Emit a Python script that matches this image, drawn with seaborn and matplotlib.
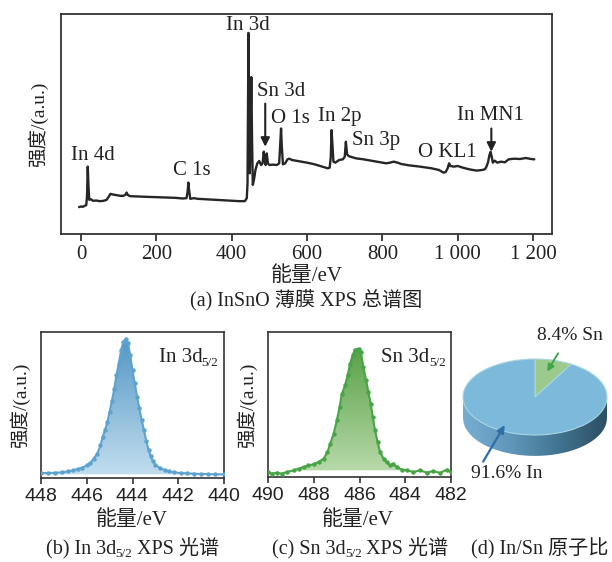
import numpy as np
import pandas as pd
import matplotlib
matplotlib.use('Agg')
import matplotlib.pyplot as plt
import seaborn as sns
from matplotlib.colors import LinearSegmentedColormap
from matplotlib.path import Path

# ---------------- data ----------------
survey_energy = [-5, 0, 5, 10, 14, 16, 18, 20, 22, 26, 32, 40, 50, 60, 68, 74, 78, 85, 95, 105,
                 112, 118, 121, 124, 130, 150, 175, 200, 225, 250, 270, 280, 283, 285, 287, 290,
                 300, 310, 340, 370, 400, 420, 435, 440, 442, 443.5, 444.5, 446, 448, 450, 452,
                 454, 456, 459, 463, 468, 473, 478, 482, 485, 487, 490, 493, 496, 500, 510, 520,
                 526, 529, 531, 533, 536, 542, 548, 553, 560, 580, 600, 620, 640, 655, 660, 663,
                 665, 667, 670, 675, 685, 695, 700, 703, 706, 710, 715, 730, 750, 770, 790, 810,
                 820, 830, 840, 850, 870, 900, 930, 950, 962, 968, 973, 977, 980, 990, 1000, 1010,
                 1030, 1050, 1065, 1072, 1076, 1080, 1084, 1087, 1090, 1093, 1098, 1105, 1115,
                 1125, 1135, 1150, 1165, 1180, 1195, 1203]
survey_intensity = [81, 83, 82, 85, 87, 113, 203, 143, 103, 105, 100, 101, 99, 100, 103, 113, 121,
                    119, 117, 115, 115, 118, 125, 118, 114, 113, 112, 111, 110, 109, 107, 108, 128,
                    155, 131, 106, 108, 106, 104, 102, 100, 99, 99, 108, 153, 403, 606, 403, 183,
                    303, 473, 283, 148, 163, 193, 213, 220, 208, 213, 248, 228, 208, 243, 213, 208,
                    209, 208, 213, 273, 318, 263, 210, 213, 225, 227, 223, 219, 215, 210, 203, 198,
                    200, 233, 313, 273, 218, 215, 223, 225, 233, 278, 241, 235, 233, 228, 225, 221,
                    217, 213, 215, 218, 215, 211, 207, 203, 198, 193, 185, 187, 198, 213, 205, 203,
                    205, 201, 195, 191, 193, 195, 203, 215, 238, 248, 233, 215, 221, 215, 218, 216,
                    225, 227, 226, 229, 226, 225]
survey_ticks = [0, 200, 400, 600, 800, 1000, 1200]
survey_tick_labels = ['0', '200', '400', '600', '800', '1 000', '1 200']

peak_labels = ['In 4d', 'C 1s', 'In 3d', 'Sn 3d', 'O 1s', 'In 2p', 'Sn 3p', 'O KL1', 'In MN1']
peak_label_x = [32, 293, 442, 532, 556, 688, 783, 973, 1087]
peak_label_y = [238, 190, 628, 428, 348, 355, 283, 245, 358]

in_energy = [448.0, 447.7, 447.4, 447.1, 446.8, 446.6, 446.4, 446.2, 446.0, 445.85, 445.7, 445.55,
             445.4, 445.3, 445.2, 445.1, 445.0, 444.9, 444.8, 444.7, 444.6, 444.5, 444.4, 444.3,
             444.2, 444.1, 444.0, 443.9, 443.8, 443.7, 443.6, 443.5, 443.4, 443.3, 443.2, 443.1,
             443.0, 442.8, 442.6, 442.4, 442.2, 441.9, 441.6, 441.3, 441.0, 440.7, 440.4, 440.0]
in_intensity = [15, 15, 16, 17, 20, 23, 27, 31, 38, 45, 58, 72, 98, 125, 145, 168, 200, 232, 268,
                310, 345, 385, 410, 420, 408, 370, 325, 285, 245, 210, 175, 145, 112, 85, 65, 50,
                40, 30, 24, 20, 17, 15, 14, 13, 12, 12, 11, 11]

sn_energy = [490.0, 489.83, 489.6, 489.4, 489.17, 488.88, 488.66, 488.44, 488.23, 488.0, 487.79,
             487.57, 487.4, 487.28, 487.13, 486.99, 486.87, 486.77, 486.63, 486.52, 486.41, 486.3,
             486.2, 486.04, 485.94, 485.83, 485.71, 485.61, 485.51, 485.42, 485.32, 485.21, 485.1,
             484.95, 484.81, 484.66, 484.52, 484.37, 484.15, 483.93, 483.64, 483.35, 483.06,
             482.77, 482.48, 482.19, 482.0]
sn_intensity = [15, 10, 13, 10, 15, 20, 25, 30, 35, 38, 45, 55, 75, 100, 130, 170, 210, 250, 275,
                305, 340, 365, 382, 385, 375, 330, 290, 255, 220, 180, 140, 105, 75, 55, 45, 35,
                40, 30, 22, 20, 15, 20, 13, 18, 12, 22, 15]

pie_labels = ['Sn', 'In']
pie_values = [8.4, 91.6]

# ---------------- style ----------------
sns.set_theme(style='ticks')
plt.rcParams['font.family'] = ['Liberation Serif', 'Noto Sans CJK SC']
plt.rcParams['mathtext.fontset'] = 'stix'
plt.rcParams['axes.unicode_minus'] = False

W, H = 612, 562
fig = plt.figure(figsize=(W / 100, H / 100), dpi=100)
renderer = fig.canvas.get_renderer()
TXT = '#222222'


def box(l, t, r, b):
    return [l / W, 1 - b / H, (r - l) / W, (b - t) / H]


def ftext(x, y, s, **kw):
    fig.text(x / W, 1 - y / H, s, ha='center', va='center', **kw)


def rich(xc, y_base, parts):
    """parts: list of (string, fontsize, dy_pixels) laid out left to right, centred at xc."""
    items = []
    for s, fs, dy in parts:
        t = fig.text(0, 0, s, fontsize=fs, ha='left', va='baseline', color=TXT)
        items.append((t, dy, t.get_window_extent(renderer).width - 0.8))
    total = sum(w for _, _, w in items)
    x = xc - total / 2
    for t, dy, w in items:
        t.set_position((x / W, 1 - (y_base + dy) / H))
        x += w


spine_col = '#333333'

# ---------------- (a) survey ----------------
ax = fig.add_axes(box(61, 14, 552, 234))
df_s = pd.DataFrame({'E': survey_energy, 'I': survey_intensity})
sns.lineplot(data=df_s, x='E', y='I', ax=ax, color='#262626', lw=1.7, sort=False)
ax.set_xlim(-53, 1250)
ax.set_ylim(0, 663)
ax.set_xticks(survey_ticks)
ax.set_xticklabels(survey_tick_labels)
ax.set_yticks([])
ax.set_xlabel('')
ax.set_ylabel('')
ax.tick_params(axis='x', direction='out', length=5, width=1.2, labelsize=15, pad=3,
               colors=TXT)
for s in ax.spines.values():
    s.set_visible(True)
    s.set_color(spine_col)
    s.set_linewidth(1.3)
for lbl, px, py in zip(peak_labels, peak_label_x, peak_label_y):
    ax.text(px, py, lbl, ha='center', va='center', fontsize=15, color=TXT)
arr = dict(arrowstyle='-|>', color=TXT, lw=1.5, mutation_scale=13, shrinkA=0, shrinkB=0)
ax.annotate('', xy=(489, 263), xytext=(489, 393), arrowprops=arr)
ax.annotate('', xy=(1089, 248), xytext=(1089, 318), arrowprops=arr)
ftext(38, 124, '强度/(a.u.)', fontsize=14, rotation=90, color=TXT)
ftext(307, 276, '能量/eV', fontsize=15, color=TXT)
ftext(306, 300, '(a) InSnO 薄膜 XPS 总谱图', fontsize=14.5, color=TXT)


# ---------------- helper for gradient fill ----------------
def gradient_fill(axx, x, y, base, c_top, c_bot, ymax, where=None):
    poly = axx.fill_between(x, y, base, where=where, color='none', lw=0, interpolate=True)
    cmap = LinearSegmentedColormap.from_list('g', [c_bot, c_top])
    grad = np.linspace(0, 1, 256).reshape(-1, 1)
    im = axx.imshow(grad, extent=[min(x), max(x), 0, ymax], origin='lower', aspect='auto',
                    cmap=cmap, zorder=1)
    paths = poly.get_paths()
    verts = np.concatenate([p.vertices for p in paths])
    codes = np.concatenate([p.codes if p.codes is not None else
                            np.r_[Path.MOVETO, [Path.LINETO] * (len(p.vertices) - 1)]
                            for p in paths])
    im.set_clip_path(Path(verts, codes), transform=axx.transData)


def style_small(axx, xlim, ticks):
    axx.set_xlim(*xlim)
    axx.set_xticks(ticks)
    axx.set_yticks([])
    axx.set_xlabel('')
    axx.set_ylabel('')
    axx.tick_params(axis='x', direction='out', length=4, width=1.1, labelsize=14, pad=3,
                    colors=TXT)
    for lbl in axx.get_xticklabels():
        lbl.set_fontfamily('Liberation Sans')
    for s in axx.spines.values():
        s.set_visible(True)
        s.set_color(spine_col)
        s.set_linewidth(1.2)


# ---------------- (b) In 3d5/2 ----------------
axb = fig.add_axes(box(41, 332, 224, 478))
gradient_fill(axb, in_energy, in_intensity, 11, '#4f93c2', '#c4e0f0', 440)
sns.lineplot(x=in_energy, y=in_intensity, ax=axb, color='#5ea3cf', lw=1.5, marker='o',
             markersize=3.2, markeredgewidth=0, zorder=3)
axb.set_ylim(0, 440)
style_small(axb, (448, 440), [448, 446, 444, 442, 440])
rich(188, 362, [('In 3d', 15, 0), ('5/2', 9.5, 3.5)])
ftext(20, 405, '强度/(a.u.)', fontsize=14, rotation=90, color=TXT)
ftext(132, 520, '能量/eV', fontsize=15, color=TXT)
rich(132, 554, [('(b) In 3d', 14.5, 0), ('5/2', 9.5, 3), (' XPS 光谱', 14.5, 0)])

# ---------------- (c) Sn 3d5/2 ----------------
axc = fig.add_axes(box(268, 332, 451, 477))
sn_e = np.array(sn_energy)
gradient_fill(axc, sn_energy, sn_intensity, 20, '#4c9a3a', '#bcdcae', 435,
              where=(sn_e < 488.7) & (sn_e > 484.1))
sns.lineplot(x=sn_energy, y=sn_intensity, ax=axc, color='#47a545', lw=1.5, marker='o',
             markersize=3.2, markeredgewidth=0, zorder=3)
axc.set_ylim(0, 435)
style_small(axc, (490, 482), [490, 488, 486, 484, 482])
rich(413, 362, [('Sn 3d', 15, 0), ('5/2', 9.5, 3.5)])
ftext(247, 405, '强度/(a.u.)', fontsize=14, rotation=90, color=TXT)
ftext(358, 520, '能量/eV', fontsize=15, color=TXT)
rich(360, 554, [('(c) Sn 3d', 14.5, 0), ('5/2', 9.5, 3), (' XPS 光谱', 14.5, 0)])

# ---------------- (d) pie ----------------
axp = fig.add_axes(box(452.2, 326.7, 610.6, 484.4))
depth = 0.55
xs = np.linspace(-1, 1, 300)
lower = -depth - np.sqrt(np.clip(1 - xs ** 2, 0, None))
side_verts = np.vstack([np.column_stack([xs, lower]), [[1, 0], [-1, 0], [-1, lower[0]]]])
side_path = Path(side_verts)
side_cmap = LinearSegmentedColormap.from_list('side', ['#77add0', '#5f97ba', '#41738f', '#2c4e61'])
gimg = axp.imshow(np.linspace(0, 1, 256).reshape(1, -1), extent=[-1, 1, -depth - 1, 0],
                  aspect='auto', cmap=side_cmap, zorder=1)
gimg.set_clip_path(side_path, transform=axp.transData)
wedges, _ = axp.pie(pie_values, colors=['#9cc98c', '#7db9da'], startangle=90, counterclock=False,
                    radius=1, center=(0, 0),
                    wedgeprops=dict(edgecolor='#a9d6e3', linewidth=0.8, zorder=2))
axp.set_aspect('auto')
axp.set_xlim(-1.15, 1.05)
axp.set_ylim(-2.3, 1.85)
axp.axis('off')
axp.annotate('', xy=(0.17, 0.67), xytext=(0.32, 1.15),
             arrowprops=dict(arrowstyle='-|>', color='#3fa64a', lw=1.4, mutation_scale=10,
                             shrinkA=0, shrinkB=0))
axp.annotate('', xy=(-0.42, -0.74), xytext=(-0.72, -1.70),
             arrowprops=dict(arrowstyle='-|>', color='#2f6fa8', lw=1.6, mutation_scale=11,
                             shrinkA=0, shrinkB=0))
axp.text(0.49, 1.63, '8.4% Sn', ha='center', va='center', fontsize=14, color=TXT,
         clip_on=False)
axp.text(-0.39, -2.01, '91.6% In', ha='center', va='center', fontsize=14, color=TXT,
         clip_on=False)
ftext(540, 549, '(d) In/Sn 原子比', fontsize=14.5, color=TXT)

fig.savefig('out.png', dpi=100)
